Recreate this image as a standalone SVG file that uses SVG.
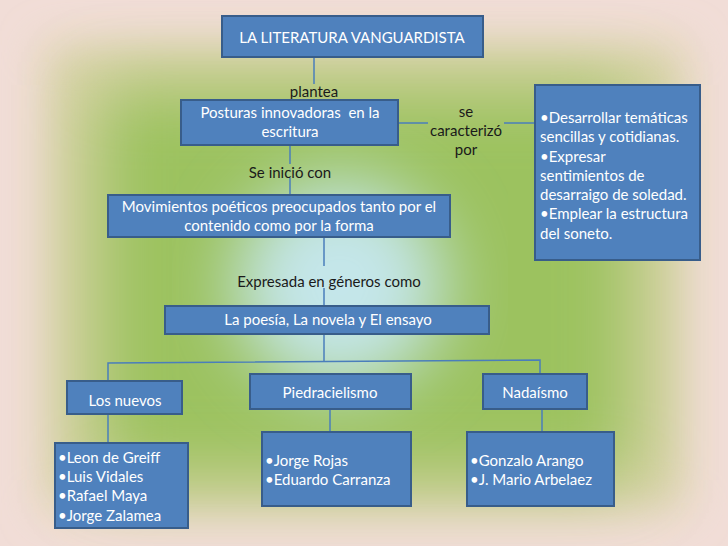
<svg xmlns="http://www.w3.org/2000/svg" width="728" height="546" viewBox="0 0 728 546">
<defs>
<filter id="b1" x="-20%" y="-20%" width="140%" height="140%"><feGaussianBlur stdDeviation="22"/></filter>
<filter id="b2" x="-30%" y="-30%" width="160%" height="160%"><feGaussianBlur stdDeviation="35"/></filter>
<style>
.box{fill:#4f81bd;stroke:#385d8a;stroke-width:2}
.t{font-family:Lato,"Liberation Sans",sans-serif;font-size:15px;fill:#ffffff}
.c{text-anchor:middle}
.lbl{font-family:Lato,"Liberation Sans",sans-serif;font-size:15px;fill:#1a1a1a;text-anchor:middle}
.ln{stroke:#4a7ebb;stroke-width:1.5;fill:none}
</style>
</defs>
<g id="background">
<rect x="0" y="0" width="728" height="546" fill="#f1ddd7"/>
<rect x="45" y="45" width="640" height="465" fill="#d9d3a9" filter="url(#b1)"/>
<rect x="95" y="85" width="540" height="395" fill="#9cc25f" filter="url(#b2)"/>
<ellipse cx="340" cy="285" rx="105" ry="105" fill="#c4e6ea" filter="url(#b2)"/>
</g>
<g id="connectors">
<line class="ln" x1="314" y1="57" x2="314" y2="84"/>
<line class="ln" x1="398" y1="123" x2="428" y2="123"/>
<line class="ln" x1="504" y1="123" x2="535" y2="123"/>
<line class="ln" x1="290" y1="145" x2="290" y2="164"/>
<line class="ln" x1="290" y1="178" x2="290" y2="195"/>
<line class="ln" x1="324" y1="237" x2="324" y2="266"/>
<line class="ln" x1="324" y1="288" x2="324" y2="306"/>
<line class="ln" x1="324" y1="334" x2="324" y2="361"/>
<polyline class="ln" points="108,381 108,363 540,360 540,374"/>
<line class="ln" x1="330" y1="409" x2="330" y2="432"/>
<line class="ln" x1="542" y1="409" x2="542" y2="432"/>
<line class="ln" x1="108" y1="414" x2="108" y2="443"/>
</g>
<g id="labels">
<text class="lbl" x="314" y="97">plantea</text>
<text class="lbl" x="466" y="117">se</text>
<text class="lbl" x="466" y="136">caracterizó</text>
<text class="lbl" x="466" y="155">por</text>
<text class="lbl" x="290" y="178">Se inició con</text>
<text class="lbl" x="329" y="287">Expresada en géneros como</text>
</g>
<g id="n-title">
<rect class="box" x="222" y="16" width="261" height="41"/>
<text class="t c" x="352" y="43">LA LITERATURA VANGUARDISTA</text>
</g>
<g id="n-posturas">
<rect class="box" x="181" y="100" width="217" height="45"/>
<text class="t c" x="290" y="118" style="white-space:pre">Posturas innovadoras  en la</text>
<text class="t c" x="290" y="137">escritura</text>
</g>
<g id="n-caract">
<rect class="box" x="535" y="85" width="165" height="175"/>
<text class="t" x="540" y="123">•Desarrollar temáticas</text>
<text class="t" x="540" y="142">sencillas y cotidianas.</text>
<text class="t" x="540" y="162">•Expresar</text>
<text class="t" x="540" y="181">sentimientos de</text>
<text class="t" x="540" y="200">desarraigo de soledad.</text>
<text class="t" x="540" y="219">•Emplear la estructura</text>
<text class="t" x="540" y="239">del soneto.</text>
</g>
<g id="n-movimientos">
<rect class="box" x="108" y="195" width="342" height="42"/>
<text class="t c" x="279" y="212">Movimientos poéticos preocupados tanto por el</text>
<text class="t c" x="279" y="231">contenido como por la forma</text>
</g>
<g id="n-generos">
<rect class="box" x="165" y="306" width="324" height="28"/>
<text class="t c" x="328" y="325">La poesía, La novela y El ensayo</text>
</g>
<g id="n-nuevos">
<rect class="box" x="67" y="381" width="115" height="33"/>
<text class="t c" x="125" y="406">Los nuevos</text>
</g>
<g id="n-piedra">
<rect class="box" x="250" y="374" width="161" height="35"/>
<text class="t c" x="330" y="398">Piedracielismo</text>
</g>
<g id="n-nada">
<rect class="box" x="483" y="374" width="104" height="35"/>
<text class="t c" x="535" y="398">Nadaísmo</text>
</g>
<g id="n-nuevos-list">
<rect class="box" x="55" y="443" width="133" height="85"/>
<text class="t" x="58" y="463">•Leon de Greiff</text>
<text class="t" x="58" y="482">•Luis Vidales</text>
<text class="t" x="58" y="501">•Rafael Maya</text>
<text class="t" x="58" y="521">•Jorge Zalamea</text>
</g>
<g id="n-piedra-list">
<rect class="box" x="262" y="432" width="149" height="74"/>
<text class="t" x="265" y="466">•Jorge Rojas</text>
<text class="t" x="265" y="485">•Eduardo Carranza</text>
</g>
<g id="n-nada-list">
<rect class="box" x="467" y="432" width="147" height="74"/>
<text class="t" x="470" y="466">•Gonzalo Arango</text>
<text class="t" x="470" y="485">•J. Mario Arbelaez</text>
</g>
</svg>
